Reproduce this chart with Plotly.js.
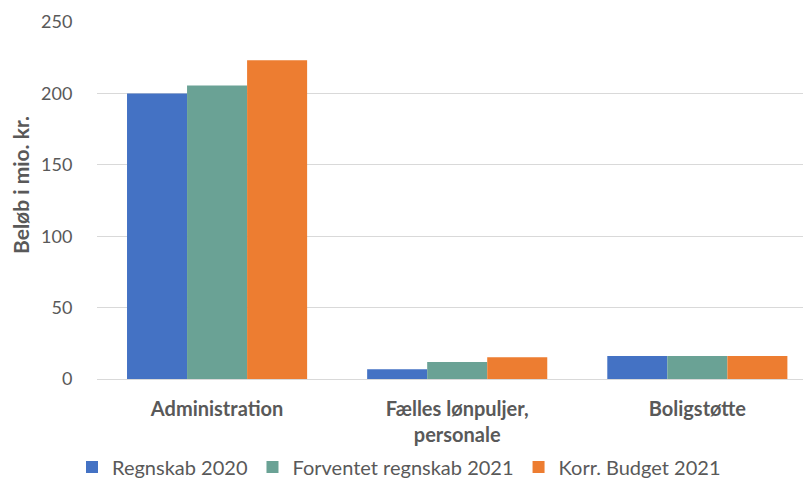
<!DOCTYPE html>
<html>
<head>
<meta charset="utf-8">
<script src="https://cdn.plot.ly/plotly-3.0.1.min.js"></script>
<style>html,body{margin:0;padding:0;background:#fff;}#chart{width:803px;height:493px;}</style>
</head>
<body>
<div id="chart"></div>
<script>
const categories = ["Administration", "Fælles lønpuljer,<br>personale", "Boligstøtte"];
const regnskab2020 = [200, 6.8, 16.1];
const forventet2021 = [205.5, 11.9, 16.1];
const korrBudget2021 = [223.3, 15.2, 16.1];
const seriesNames = ["Regnskab 2020", "Forventet regnskab 2021", "Korr. Budget 2021"];
const colors = ["#4472C4", "#6AA295", "#ED7D31"];
const yTicks = [0, 50, 100, 150, 200, 250];
const yTitle = "Beløb i mio. kr.";

const data = [regnskab2020, forventet2021, korrBudget2021].map((vals, i) => ({
  type: "bar",
  x: categories,
  y: vals,
  name: seriesNames[i],
  marker: {color: colors[i]},
  hoverinfo: "none"
}));

const layout = {
  width: 803, height: 493,
  margin: {l: 97, r: 0, t: 22, b: 114},
  paper_bgcolor: "#fff", plot_bgcolor: "#fff",
  barmode: "group", bargap: 0.25, bargroupgap: 0,
  font: {family: "Lato, sans-serif", color: "#595959"},
  xaxis: {
    type: "category",
    range: [-0.5, 2.44],
    showgrid: false, zeroline: false, showline: false,
    ticks: "outside", ticklen: 12, tickcolor: "rgba(0,0,0,0)",
    tickfont: {size: 20, color: "#595959", weight: "bold"}
  },
  yaxis: {
    range: [0, 250],
    tickvals: yTicks,
    showgrid: true, gridcolor: "#d9d9d9", gridwidth: 1,
    zeroline: true, zerolinecolor: "#d9d9d9", zerolinewidth: 1,
    showline: false,
    ticks: "outside", ticklen: 20, tickcolor: "rgba(0,0,0,0)",
    tickfont: {size: 18, color: "#595959"}
  },
  annotations: [{
    text: "<b>" + yTitle + "</b>",
    textangle: -90,
    xref: "paper", yref: "paper",
    x: -97/706 + 20/706, y: (493 - 22 - 185) / 357 - 0,
    xanchor: "center", yanchor: "middle",
    showarrow: false,
    font: {size: 21, color: "#595959"}
  }],
  showlegend: true,
  legend: {
    orientation: "h", x: 72/803, xref: "container", y: (493-467)/493, yref: "container",
    xanchor: "left", yanchor: "middle",
    font: {size: 20, color: "#595959"},
    itemwidth: 30, traceorder: "normal"
  }
};
layout.annotations[0].y = (379 - 185) / 357;

Plotly.newPlot("chart", data, layout, {displayModeBar: false, staticPlot: true});
</script>
</body>
</html>
